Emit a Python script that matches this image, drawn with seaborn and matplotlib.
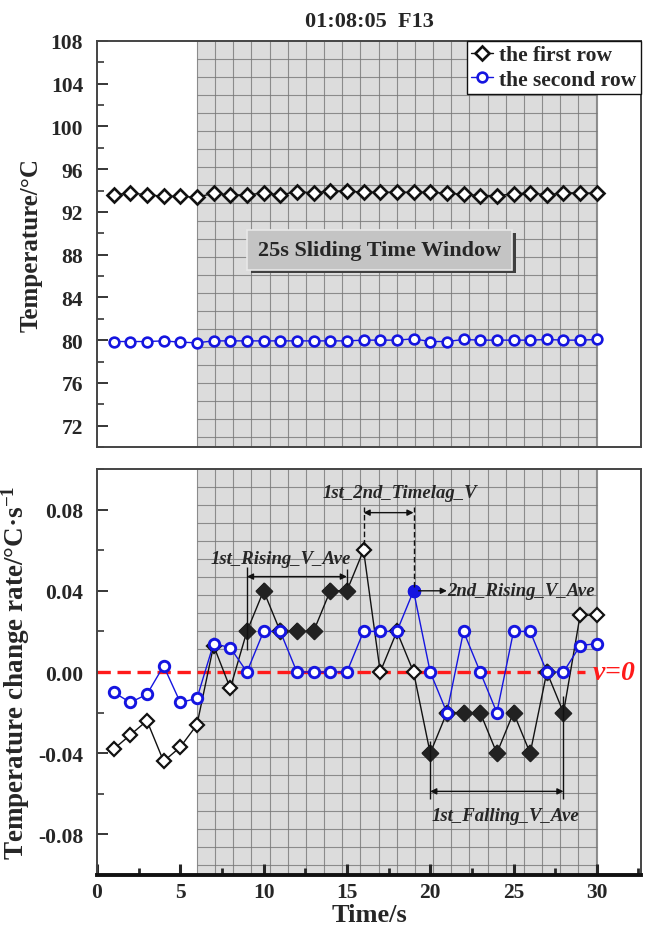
import numpy as np
import pandas as pd
import seaborn as sns
import matplotlib.pyplot as plt
from matplotlib.patches import Rectangle
from matplotlib.ticker import MultipleLocator, FormatStrFormatter

# ---- data ----
time_s = list(range(1, 31))
temp_first = [93.62, 93.75, 93.62, 93.46, 93.46, 93.37, 93.75, 93.59, 93.59, 93.78,
              93.59, 93.90, 93.78, 93.96, 93.96, 93.84, 93.84, 93.84, 93.84, 93.84,
              93.75, 93.65, 93.53, 93.53, 93.68, 93.78, 93.59, 93.78, 93.78, 93.75]
temp_second = [79.87, 79.87, 79.87, 79.93, 79.81, 79.75, 79.93, 79.93, 79.93, 79.93,
               79.93, 79.93, 79.93, 79.93, 79.93, 80.00, 80.00, 80.00, 80.12, 79.87,
               79.87, 80.06, 80.00, 80.00, 80.00, 80.00, 80.06, 80.00, 80.00, 80.06]
rate_first = [-0.038, -0.031, -0.024, -0.044, -0.037, -0.026, 0.013, -0.008, 0.02, 0.04,
              0.02, 0.02, 0.02, 0.04, 0.04, 0.06, 0.0, 0.02, 0.0, -0.04,
              -0.02, -0.02, -0.02, -0.04, -0.02, -0.04, 0.0, -0.02, 0.028, 0.028]
rate_second = [-0.010, -0.015, -0.011, 0.003, -0.015, -0.013, 0.014, 0.012, 0.0, 0.02,
               0.02, 0.0, 0.0, 0.0, 0.0, 0.02, 0.02, 0.02, 0.04, 0.0,
               -0.02, 0.02, 0.0, -0.02, 0.02, 0.02, 0.0, 0.0, 0.013, 0.014]
solid_first = [9, 10, 11, 12, 13, 14, 15, 20, 21, 22, 23, 24, 25, 26, 27, 28]
solid_second = [19]
window = (6, 30)
labels = ["the first row", "the second row"]

df = pd.DataFrame({"Time": time_s, "T1": temp_first, "T2": temp_second,
                   "V1": rate_first, "V2": rate_second})
df_s1 = df[df["Time"].isin(solid_first)]
df_s2 = df[df["Time"].isin(solid_second)]

sns.set_style("ticks")
plt.rcParams["font.family"] = ["Liberation Serif", "DejaVu Serif"]
plt.rcParams["font.weight"] = "bold"
plt.rcParams["axes.unicode_minus"] = False
plt.rcParams["mathtext.fontset"] = "custom"
plt.rcParams["mathtext.rm"] = "Liberation Serif:bold"
plt.rcParams["mathtext.bf"] = "Liberation Serif:bold"
plt.rcParams["mathtext.it"] = "Liberation Serif:bold:italic"
plt.rcParams["mathtext.default"] = "bf"

BLACK = "#111111"
BLUE = "#1515e0"
GRID = "#777777"

fig = plt.figure(figsize=(6.57, 9.37), dpi=100)
ax1 = fig.add_axes([0.1476, 0.5219, 0.828, 0.4333])
ax2 = fig.add_axes([0.1476, 0.0651, 0.828, 0.4333])


def draw_window(ax):
    ax.axvspan(window[0], window[1], facecolor="#dcdcdc", edgecolor="none", zorder=0)
    for xv in np.arange(window[0], window[1], 1.09):
        ax.axvline(xv, color=GRID, lw=0.8, alpha=0.8, zorder=0.5)
    ax.axvline(window[1], color=GRID, lw=0.8, alpha=0.8, zorder=0.5)
    rows = 1 - np.arange(1, 23) * 18 / 406
    ax.hlines(rows, window[0], window[1], transform=ax.get_xaxis_transform(),
              color=GRID, lw=0.8, alpha=0.8, zorder=0.5)


# ---------------- top panel ----------------
draw_window(ax1)
sns.lineplot(data=df, x="Time", y="T1", ax=ax1, color=BLACK, lw=1, marker="D",
             markersize=7.5, markerfacecolor="white", markeredgecolor=BLACK,
             markeredgewidth=1.9, label=labels[0], zorder=3)
sns.lineplot(data=df, x="Time", y="T2", ax=ax1, color=BLUE, lw=1, marker="o",
             markersize=7, markerfacecolor="white", markeredgecolor=BLUE,
             markeredgewidth=1.9, label=labels[1], zorder=3)

ax1.set_xlim(0, 32.65)
ax1.set_ylim(70, 108)
ax1.yaxis.set_major_locator(MultipleLocator(4))
ax1.yaxis.set_minor_locator(MultipleLocator(2))
ax1.tick_params(axis="x", which="both", bottom=False, labelbottom=False)
ax1.tick_params(axis="y", which="major", direction="in", length=8, width=1.3,
                labelsize=15.5, pad=10)
ax1.tick_params(axis="y", which="minor", direction="in", length=5, width=1.1)
ax1.set_xlabel("")
ax1.set_ylabel("Temperature/°C", fontsize=18, fontweight="bold", labelpad=6)
ax1.set_title("01:08:05  F13", fontsize=16, fontweight="bold", pad=11)
for s in ax1.spines.values():
    s.set_color("#444444")
    s.set_linewidth(1.4)

leg = ax1.legend(loc="upper right", borderaxespad=0, fontsize=15.5, frameon=True,
                 fancybox=False, edgecolor=BLACK, framealpha=1,
                 handlelength=1.0, handletextpad=0.3, borderpad=0.2,
                 labelspacing=0.2)
leg.get_frame().set_linewidth(1.0)
for t in leg.get_texts():
    t.set_fontweight("bold")

# sliding window label box
ax1.add_patch(Rectangle((9.25, 86.3), 15.9, 3.7, facecolor="#404040",
                        edgecolor="none", zorder=4))
ax1.add_patch(Rectangle((9.0, 86.6), 15.9, 3.7, facecolor="#c4c4c4",
                        edgecolor="#e8e8e8", lw=1.2, zorder=5))
ax1.text(16.95, 88.45, "25s Sliding Time Window", ha="center", va="center",
         fontsize=16, fontweight="bold", zorder=6)

# ---------------- bottom panel ----------------
draw_window(ax2)
sns.lineplot(data=df, x="Time", y="V1", ax=ax2, color=BLACK, lw=1, marker="D",
             markersize=7, markerfacecolor="white", markeredgecolor=BLACK,
             markeredgewidth=1.6, zorder=3)
sns.scatterplot(data=df_s1, x="Time", y="V1", ax=ax2, marker="D", s=66,
                color="#222222", edgecolor="#222222", linewidth=1.2, zorder=4)
sns.lineplot(data=df, x="Time", y="V2", ax=ax2, color=BLUE, lw=1, marker="o",
             markersize=7.5, markerfacecolor="white", markeredgecolor=BLUE,
             markeredgewidth=2.1, zorder=5)
sns.scatterplot(data=df_s2, x="Time", y="V2", ax=ax2, marker="o", s=75,
                color=BLUE, edgecolor=BLUE, linewidth=1, zorder=6)

ax2.hlines(0, 0, 29.3, colors="#ff1a1a", linestyles=(0, (4, 2)), lw=2.4, zorder=2.5)
ax2.text(31.0, 0, "$\\mathit{v}$=0", color="#ff1a1a", fontsize=20,
         fontweight="bold", fontstyle="italic", ha="center", va="center")

ax2.set_xlim(0, 32.65)
ax2.set_ylim(-0.1, 0.1)
ax2.xaxis.set_major_locator(MultipleLocator(5))
ax2.xaxis.set_minor_locator(MultipleLocator(2.5))
ax2.yaxis.set_major_locator(MultipleLocator(0.04))
ax2.yaxis.set_minor_locator(MultipleLocator(0.02))
ax2.yaxis.set_major_formatter(FormatStrFormatter("%.2f"))
ax2.tick_params(axis="both", which="major", direction="in", labelsize=15.5, pad=10)
ax2.tick_params(axis="y", which="major", length=8, width=1.3)
ax2.tick_params(axis="y", which="minor", direction="in", length=5, width=1.1)
ax2.tick_params(axis="x", which="major", length=8, width=2.2, pad=5)
ax2.tick_params(axis="x", which="minor", direction="in", length=5, width=2)
ax2.set_xlabel("Time/s", fontsize=19, fontweight="bold", labelpad=1)
ax2.set_ylabel("Temperature change rate/°C·s$^{-1}$", fontsize=19.5,
               fontweight="bold", labelpad=4)
for s in ax2.spines.values():
    s.set_color("#444444")
    s.set_linewidth(1.4)
ax2.spines["bottom"].set_color(BLACK)
ax2.spines["bottom"].set_linewidth(2.8)

# annotations
ann = dict(arrowstyle="<|-|>", color=BLACK, lw=1, shrinkA=0, shrinkB=0,
           mutation_scale=9)
ax2.annotate("", xy=(15, 0.047), xytext=(9, 0.047), arrowprops=ann, zorder=7)
ax2.vlines(9, 0.011, 0.0515, colors=BLACK, lw=1, zorder=7)
ax2.vlines(15, 0.043, 0.0505, colors=BLACK, lw=1, zorder=7)
ax2.text(11.05, 0.0557, "1st_Rising_V_Ave", ha="center", va="center",
         fontsize=13.5, fontweight="bold", fontstyle="italic", zorder=7)

ax2.annotate("", xy=(19, 0.0785), xytext=(16, 0.0785), arrowprops=ann, zorder=7)
ax2.vlines([16, 19], [0.0625, 0.042], 0.0815, colors=BLACK, lw=1,
           linestyles=(0, (4, 2)), zorder=7)
ax2.text(18.2, 0.0885, "1st_2nd_Timelag_V", ha="center", va="center",
         fontsize=13.5, fontweight="bold", fontstyle="italic", zorder=7)

ax2.annotate("", xy=(21.0, 0.04), xytext=(19.3, 0.04),
             arrowprops=dict(arrowstyle="-|>", color=BLACK, lw=1, shrinkA=0,
                             shrinkB=0, mutation_scale=9), zorder=7)
ax2.text(21.05, 0.04, "2nd_Rising_V_Ave", ha="left", va="center",
         fontsize=13.5, fontweight="bold", fontstyle="italic", zorder=7)

ax2.annotate("", xy=(28, -0.0588), xytext=(20, -0.0588), arrowprops=ann, zorder=7)
ax2.vlines([20, 28], [-0.034, -0.012], -0.0627, colors=BLACK, lw=1, zorder=7)
ax2.text(24.5, -0.0705, "1st_Falling_V_Ave", ha="center", va="center",
         fontsize=13.5, fontweight="bold", fontstyle="italic", zorder=7)

fig.savefig("out.png", dpi=100)
